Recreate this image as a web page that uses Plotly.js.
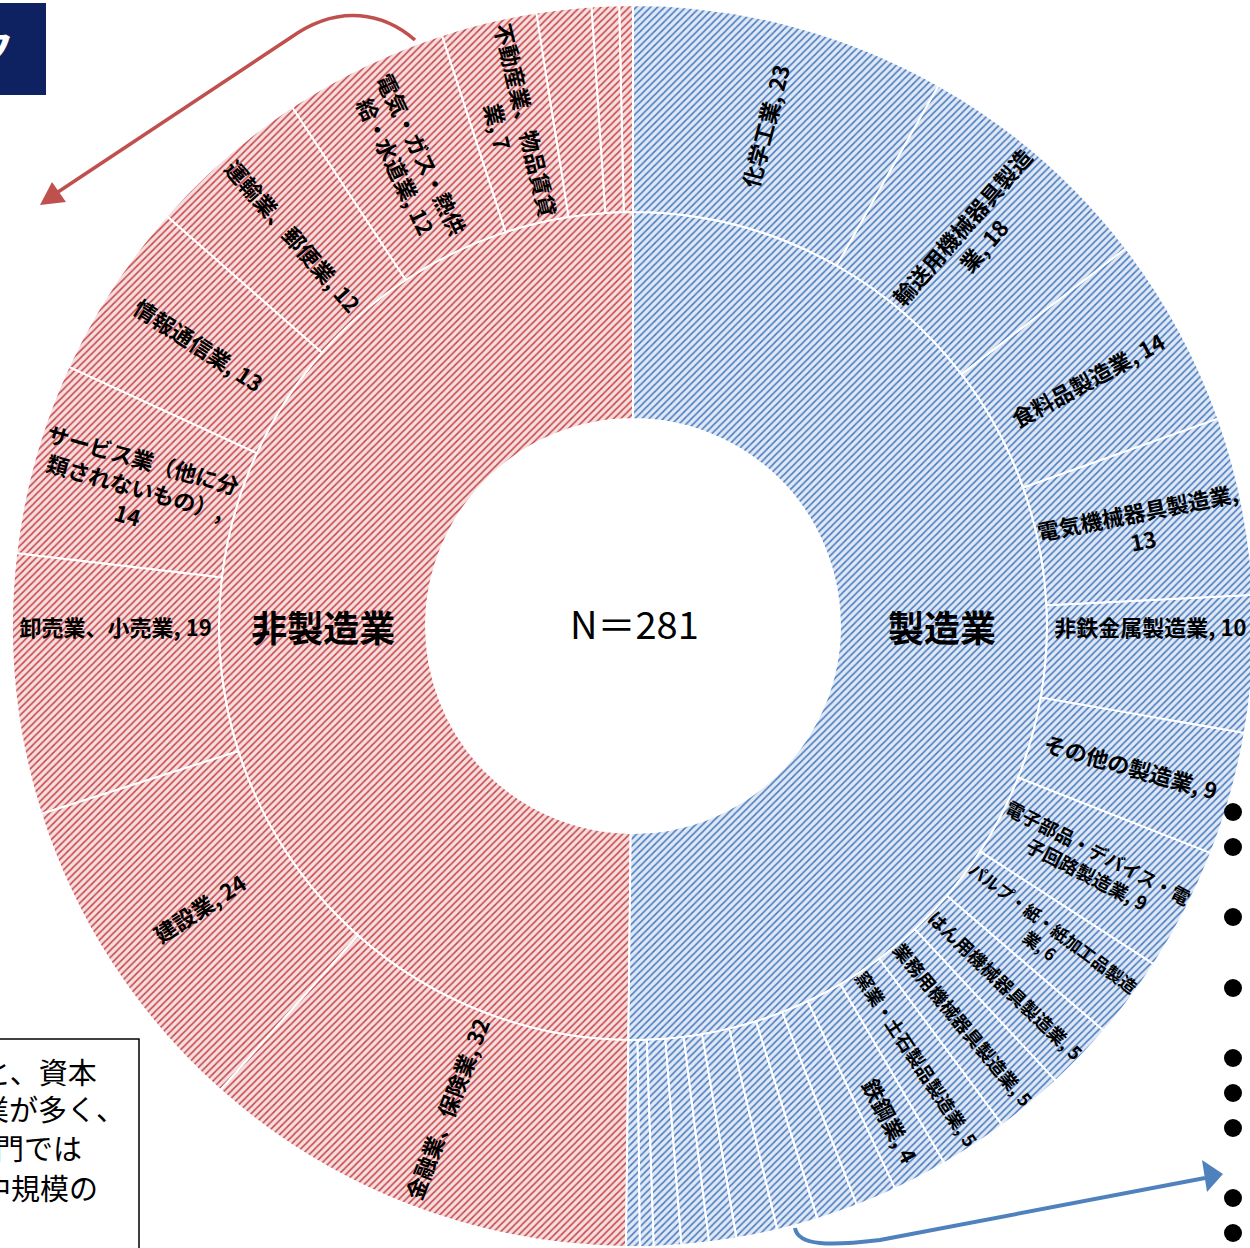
<!DOCTYPE html>
<html>
<head>
<meta charset="utf-8">
<script src="https://cdn.plot.ly/plotly-3.0.1.min.js"></script>
<style>
html, body { margin:0; padding:0; overflow:hidden; background:#fff; }
#chart { width:1260px; height:1248px; }
</style>
</head>
<body>
<div id="chart"></div>
<script>
// ---- data (listed clockwise from 12 o'clock) ----
const rootLabel = 'N＝281';
const groupLabels = ['製造業', '非製造業'];

const mfgLabels = ['化学工業','輸送用機械器具製造業','食料品製造業','電気機械器具製造業','非鉄金属製造業','その他の製造業','電子部品・デバイス・電子回路製造業','パルプ・紙・紙加工品製造業','はん用機械器具製造業','業務用機械器具製造業','窯業・土石製品製造業','鉄鋼業','金属製品製造業','生産用機械器具製造業','石油製品・石炭製品製造業','ゴム製品製造業','繊維工業','プラスチック製品製造業','印刷・同関連業','木材・木製品製造業','家具・装備品製造業'];
const mfgValues = [23,18,14,13,10,9,9,6,5,5,5,4,3,3,3,3,2,2,2,1,1];
const mfgDisplay = ['化学工業, ','輸送用機械器具製造<br>業, ','食料品製造業, ','電気機械器具製造業,<br>','非鉄金属製造業, ','その他の製造業, ','電子部品・デバイス・電<br>子回路製造業, ','パルプ・紙・紙加工品製造<br>業, ','はん用機械器具製造業, ','業務用機械器具製造業, ','窯業・土石製品製造業, ','鉄鋼業, ','','','','','','','','',''];

const nonLabels = ['金融業、保険業','建設業','卸売業、小売業','サービス業（他に分類されないもの）','情報通信業','運輸業、郵便業','電気・ガス・熱供給・水道業','不動産業、物品賃貸業','鉱業、採石業、砂利採取業','学術研究、専門・技術サービス業','医療、福祉'];
const nonValues = [32,24,19,14,13,12,12,7,4,2,1];
const nonDisplay = ['金融業、保険業, ','建設業, ','卸売業、小売業, ','サービス業（他に分<br>類されないもの）,<br>','情報通信業, ','運輸業、郵便業, ','電気・ガス・熱供<br>給・水道業, ','不動産業、物品賃貸<br>業, ','','',''];

// ---- build hierarchy (sunburst runs counterclockwise, so add in reverse) ----
const sum = a => a.reduce((s, v) => s + v, 0);
const mfgTotal = sum(mfgValues), nonTotal = sum(nonValues), total = mfgTotal + nonTotal;

const RED = '#c9484c', REDBG = '#f5dede', BLUE = '#4a7cc1', BLUEBG = '#dfe8f4';
const ids = ['root', 'non', 'mfg'];
const labels = [rootLabel, groupLabels[1], groupLabels[0]];
const parents = ['', 'root', 'root'];
const values = [total, nonTotal, mfgTotal];
const texts = ['', '<b>' + groupLabels[1] + '</b>', '<b>' + groupLabels[0] + '</b>'];
const fg = ['#ffffff', RED, BLUE];
const bg = ['#ffffff', REDBG, BLUEBG];
const shapesP = ['', '/', '/'];
const sizes = [38, 36, 36];

function addChildren(pid, prefix, labs, vals, disp, c1, c2) {
  for (let i = labs.length - 1; i >= 0; i--) {
    ids.push(prefix + i); labels.push(labs[i]); parents.push(pid); values.push(vals[i]);
    texts.push(disp[i] ? '<b>' + disp[i] + vals[i] + '</b>' : '');
    fg.push(c1); bg.push(c2); shapesP.push('/'); sizes.push(22);
  }
}
addChildren('non', 'n', nonLabels, nonValues, nonDisplay, RED, REDBG);
addChildren('mfg', 'm', mfgLabels, mfgValues, mfgDisplay, BLUE, BLUEBG);

const W = 1260, H = 1248;
const px = x => x / W, py = y => 1 - y / H;

const trace = {
  type: 'sunburst',
  ids: ids, labels: labels, parents: parents, values: values,
  branchvalues: 'total',
  sort: false,
  rotation: 90,
  text: texts,
  textinfo: 'text',
  insidetextorientation: 'radial',
  insidetextfont: { family: '"Noto Sans CJK JP", "Noto Sans", sans-serif', size: sizes, color: '#000' },
  hoverinfo: 'skip',
  leaf: { opacity: 1 },
  marker: {
    colors: fg,
    line: { color: '#ffffff', width: 2 },
    pattern: { shape: shapesP, fgcolor: fg, bgcolor: bg, size: 5, solidity: 0.32, fillmode: 'replace' }
  },
  domain: { x: [12 / W, 1254 / W], y: [1 - 1247 / H, 1 - 5 / H] }
};

function P(cmds) {
  return cmds.map(c => typeof c === 'string' ? c : (px(c[0]).toFixed(5) + ',' + py(c[1]).toFixed(5))).join(' ');
}

const shapes = [
  { type: 'rect', xref: 'paper', yref: 'paper', x0: px(-5), x1: px(46), y0: py(95), y1: py(3), fillcolor: '#0e2160', line: { width: 0 }, layer: 'above' },
  { type: 'rect', xref: 'paper', yref: 'paper', x0: px(-5), x1: px(139), y0: py(1260), y1: py(1039), fillcolor: '#ffffff', line: { color: '#000', width: 1.5 }, layer: 'above' },
  { type: 'path', xref: 'paper', yref: 'paper', layer: 'above', line: { color: '#c0504d', width: 3.5 },
    path: P(['M', [415, 40], 'C', [385, 14], [340, 2], [290, 38], 'L', [58, 192]]) },
  { type: 'path', xref: 'paper', yref: 'paper', layer: 'above', line: { width: 0 }, fillcolor: '#c0504d',
    path: P(['M', [40, 205], 'L', [66, 202], 'L', [52, 182], 'Z']) },
  { type: 'path', xref: 'paper', yref: 'paper', layer: 'above', line: { color: '#4f81bd', width: 4 },
    path: P(['M', [795, 1228], 'C', [798, 1246], [830, 1246], [880, 1240], 'L', [1205, 1178]]) },
  { type: 'path', xref: 'paper', yref: 'paper', layer: 'above', line: { width: 0 }, fillcolor: '#4f81bd',
    path: P(['M', [1223, 1174], 'L', [1202, 1160], 'L', [1207, 1192], 'Z']) }
];
[812, 847, 917, 988, 1058, 1093, 1128, 1198, 1233].forEach(y => {
  shapes.push({ type: 'circle', xref: 'paper', yref: 'paper', layer: 'above', fillcolor: '#000', line: { width: 0 },
    x0: px(1224), x1: px(1242), y0: py(y + 9), y1: py(y - 9) });
});

const jp = '"Noto Sans CJK JP", sans-serif';
const ann = (t, x, y, size, color, anchor) => ({ text: t, xref: 'paper', yref: 'paper', x: px(x), y: py(y), xanchor: anchor || 'right', yanchor: 'middle', showarrow: false, font: { family: jp, size: size, color: color } });
const annotations = [
  ann('N＝' + total, 634, 622, 38, '#000', 'center'),
  ann('<b>ク</b>', 16, 45, 40, '#ffffff'),
  ann('と、資本', 99, 1071, 29, '#000'),
  ann('業が多く、', 127, 1108, 29, '#000'),
  ann('門では', 84, 1147, 29, '#000'),
  ann('中規模の', 100, 1187, 29, '#000')
];

const layout = {
  width: W, height: H,
  margin: { l: 0, r: 0, t: 0, b: 0 },
  paper_bgcolor: '#ffffff',
  showlegend: false,
  shapes: shapes,
  annotations: annotations
};

Plotly.newPlot('chart', [trace], layout, { displayModeBar: false, staticPlot: true });
</script>
</body>
</html>
